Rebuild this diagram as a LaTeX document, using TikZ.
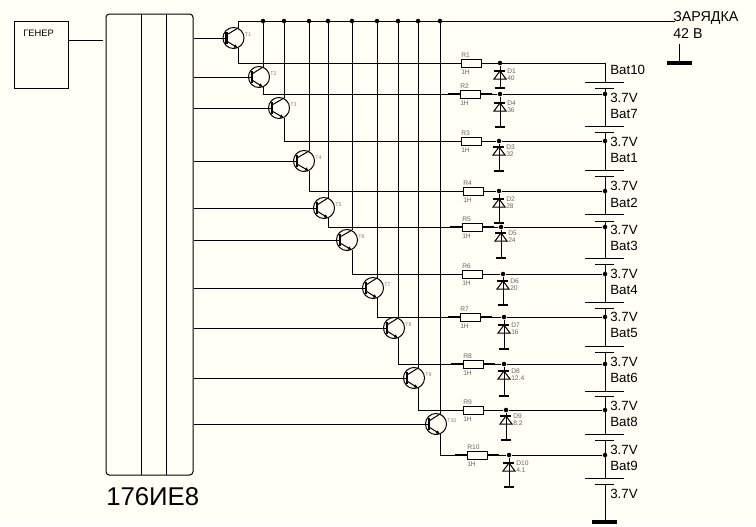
\documentclass[tikz,border=0pt]{standalone}
\usepackage{fontspec}
\setmainfont{Liberation Sans}
\usetikzlibrary{arrows.meta,calc}
\definecolor{paper}{HTML}{FFFFF6}
\definecolor{tiny}{HTML}{666666}
\tikzset{
  wire/.style={line width=.75pt,black},
  heavy/.style={line width=1.9pt,black},
  dotnode/.style={circle,fill=black,inner sep=0pt,minimum size=3.4pt},
  transistor/.style={circle,draw,line width=.75pt,inner sep=0pt,minimum size=15.8pt},
  resistor/.style={rectangle,draw,line width=.75pt,fill=paper,inner sep=0pt,minimum width=15pt,minimum height=6pt},
  smalltext/.style={font=\fontsize{5}{6}\selectfont,text=tiny,inner sep=0pt,anchor=west},
  trtext/.style={font=\fontsize{4}{5}\selectfont,text=gray,inner sep=0pt,anchor=west},
  midtext/.style={font=\fontsize{10}{12}\selectfont,inner sep=0pt,anchor=west},
  chargetext/.style={font=\fontsize{10.7}{12}\selectfont,inner sep=0pt,anchor=west},
}
\begin{document}
\begin{tikzpicture}[x=.75pt,y=-.75pt]
\useasboundingbox (0,0) rectangle (756,526);
\fill[paper] (0,0) rectangle (756,526);
% generator and counter
\node[draw,line width=.75pt,inner sep=0pt,minimum width=40.5pt,minimum height=50.25pt] (GEN) at (41,54.5) {};
\node[font=\fontsize{7}{8}\selectfont,inner sep=0pt,anchor=west] (GENT) at (23,33) {ГЕНЕР};
\node[draw,line width=.75pt,rounded corners=2.5pt,inner sep=0pt,minimum width=65.25pt,minimum height=345.75pt] (IC) at (149.5,244.5) {};
\node[font=\fontsize{19.3}{22}\selectfont,inner sep=0pt,anchor=west] (ICT) at (106,497) {176ИЕ8};
\coordinate (IA) at (141,14); \coordinate (IB) at (141,475);
\coordinate (IC2) at (166,14); \coordinate (ID) at (166,475);
\draw[wire] (IA) -- (IB);
\draw[wire] (IC2) -- (ID);
\coordinate (GO) at (68,40); \coordinate (GI) at (103,40);
\draw[wire] (GO) -- (GI);
% charge bus
\coordinate (BS) at (238,21); \coordinate (BE) at (675,21);
\draw[wire] (BS) -- (BE);
\node[chargetext] (CH1) at (673,18) {ЗАРЯДКА};
\node[chargetext] (CH2) at (673,34) {42 В};
\coordinate (TA) at (679,44); \coordinate (TB) at (679,63);
\coordinate (TL) at (667,63); \coordinate (TR) at (692,63);
\draw[wire] (TA) -- (TB);
\draw[line width=2.4pt] (TL) -- (TR);
% transistors with their resistors
\foreach \n/\cx/\cy/\ex/\ey/\rx/\lab/\tl in {
  1/233.5/38/238/63/471/R1/T1,
  2/259/77/263/94/470/R2/T2,
  3/279/108/284/141/471/R3/T3,
  4/304/161/309/191/473/R4/T4,
  5/324/208/328/227/472/R5/T5,
  6/347/240/352/274/472/R6/T6,
  7/373/288/377/317/470/R7/T7,
  8/394/328/398/364/473/R8/T8,
  9/414/378/418/410/473/R9/T9,
  10/436/424/440/455/477/R10/T10}
{
  \node[transistor] (T\n) at (\cx,\cy) {};
  \node[trtext] (TT\n) at (\cx+11,\cy-3) {\tl};
  \coordinate (TB\n) at (\cx-7,\cy);
  \coordinate (TC\n) at (\ex,\cy-10);
  \coordinate (TE\n) at (\ex,\cy+10);
  \coordinate (TK\n) at (\ex,\ey);
  \coordinate (BD\n) at (\ex,21);
  \node[resistor] (R\n) at (\rx,\ey) {};
  \node[smalltext] (RL\n) at (\rx-10,\ey-8) {\lab};
  \node[smalltext] (RV\n) at (\rx-10,\ey+9) {1Н};
  \draw[wire] (IC.east |- T\n) -- (TB\n);
  \draw[line width=2pt] (\cx-7,\cy-6) -- (\cx-7,\cy+6);
  \draw[wire] (\cx-7,\cy-3) -- (TC\n);
  \draw[wire,-{Latex[length=3pt,width=3pt]}] (\cx-7,\cy+3) -- (TE\n);
  \draw[wire] (TE\n) -- (TK\n) -- (R\n.west);
}
\foreach \n in {2,...,10} {
  \node[dotnode] (DB\n) at (BD\n) {};
  \draw[wire] (TC\n) -- (BD\n);
}
\draw[wire] (TC1) -- (BS);
% battery stack
\coordinate (BTOP) at (605,63);
\coordinate (BL1) at (605,82);
\draw[wire] (R1.east) -- (BTOP) -- (BL1);
\foreach \k/\ly/\sy/\ny in {
  1/82/88/126, 2/126/132/170, 3/170/176/214, 4/214/221/258, 5/258/264/302,
  6/302/308/346, 7/346/352/391, 8/391/396/434, 9/434/440/478, 10/478/484/523}
{
  \coordinate (LA\k) at (585,\ly); \coordinate (LB\k) at (624,\ly);
  \coordinate (SA\k) at (595,\sy); \coordinate (SB\k) at (614,\sy);
  \coordinate (SM\k) at (605,\sy); \coordinate (SN\k) at (605,\ny);
  \draw[wire] (LA\k) -- (LB\k);
  \draw[wire] (SA\k) -- (SB\k);
  \draw[wire] (SM\k) -- (SN\k);
}
\coordinate (GA) at (592,522); \coordinate (GB) at (617,522);
\draw[line width=3.2pt] (GA) -- (GB);
% zener diodes and cell taps
\foreach \n/\dx/\dy/\zy/\by/\val/\rn in {
  1/500/63/71/88/40/1,
  4/500/94/103/127/36/2,
  3/499/141/147/171/32/3,
  2/499/191/199/223/28/4,
  5/501/227/233/258/24/5,
  6/503/274/281/305/20/6,
  7/504/317/325/349/16/7,
  8/504/364/371/396/12.4/8,
  9/506/410/416/440/8.2/9,
  10/509/455/463/487/4.1/10}
{
  \node[dotnode] (DT\n) at (\dx,\dy) {};
  \coordinate (DK\n) at (\dx,\zy);
  \coordinate (DA\n) at (\dx,\zy+8);
  \coordinate (DE\n) at (\dx,\by);
  \draw[wire] (DT\n) -- (DE\n);
  \draw[line width=1.6pt] (\dx-6,\zy) -- (\dx+5,\zy);
  \draw[wire] (\dx-6,\zy+8) -- (\dx+6,\zy+8) -- (DK\n) -- cycle;
  \draw[line width=1.8pt] (\dx-5,\by) -- (\dx+5,\by);
  \node[smalltext] (DL\n) at (\dx+7,\zy+0.5) {D\n};
  \node[smalltext] (DV\n) at (\dx+7,\zy+7) {\val};
  \coordinate (BJ\n) at (605,\dy);
  \draw[wire] (R\rn.east) -- (DT\n);
}
\foreach \n in {4,3,2,5,6,7,8,9,10} {
  \node[dotnode] (BN\n) at (BJ\n) {};
  \draw[wire] (DT\n) -- (BN\n);
}
% thick resistor leads
\foreach \n in {2,5,7,8,10} {
  \draw[heavy] ($(R\n.west)+(-8.5pt,0)$) -- (R\n.west);
  \draw[heavy] (R\n.east) -- ($(R\n.east)+(8.5pt,0)$);
}
% battery labels
\foreach \k/\y/\t in {
  a/70/Bat10, b/98/3.7V, c/114/Bat7, d/142/3.7V, e/158/Bat1, f/186/3.7V, g/203/Bat2,
  h/230/3.7V, i/246/Bat3, j/274/3.7V, k/290/Bat4, l/317/3.7V, m/333/Bat5, n/362/3.7V,
  o/378/Bat6, p/406/3.7V, q/422/Bat8, r/450/3.7V, s/466/Bat9, u/494/3.7V}
{
  \node[midtext] (BL\k) at (610,\y) {\t};
}
\end{tikzpicture}
\end{document}
